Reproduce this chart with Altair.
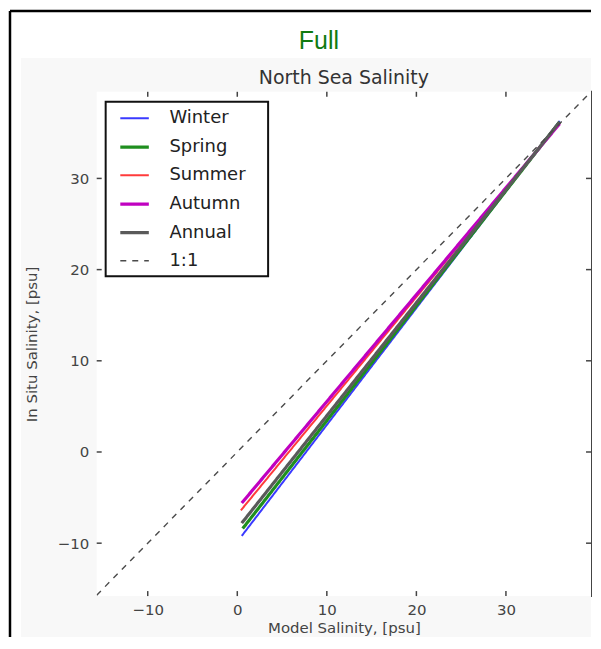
import altair as alt
import pandas as pd

# ---- data ----
series = ["Winter", "Spring", "Summer", "Autumn", "Annual", "1:1"]
colors = ["#3a3aff", "#1f8f1f", "#ff3b3b", "#c000c0", "#5a5a5a", "#4a4a4a"]
widths = [2.0, 3.2, 2.0, 3.2, 3.2, 1.4]
dashes = [[1, 0], [1, 0], [1, 0], [1, 0], [1, 0], [6, 6]]

model_start = [0.5, 0.6, 0.4, 0.5, 0.5]
insitu_start = [-9.2, -8.4, -6.4, -5.6, -7.8]
model_end = [36.0, 36.0, 36.0, 36.0, 36.0]
insitu_end = [36.3, 36.2, 36.1, 36.0, 36.2]
one_to_one = [-15.7, 39.5]

x_ticks = [-10, 0, 10, 20, 30]
y_ticks = [-10, 0, 10, 20, 30]
x_domain = [-15.7, 39.5]
y_domain = [-15.8, 39.5]

rows = []
for i, s in enumerate(series[:5]):
    rows.append({"series": s, "x": model_start[i], "y": insitu_start[i], "o": 0})
    rows.append({"series": s, "x": model_end[i], "y": insitu_end[i], "o": 1})
for j, v in enumerate(one_to_one):
    rows.append({"series": "1:1", "x": v, "y": v, "o": j})
df = pd.DataFrame(rows)

W, H = 496, 506
one = pd.DataFrame({"a": [1]})

xscale = alt.Scale(domain=x_domain, nice=False, zero=False)
yscale = alt.Scale(domain=y_domain, nice=False, zero=False)
axis_common = dict(grid=False, domain=False, ticks=False, zindex=2,
                   labelFont="DejaVu Sans", labelFontSize=15, labelColor="#444",
                   titleFont="DejaVu Sans", titleFontSize=15, titleFontWeight="normal",
                   titleColor="#444")
xaxis = alt.Axis(values=x_ticks, title="Model Salinity, [psu]", labelPadding=6,
                 titlePadding=4, **axis_common)
yaxis = alt.Axis(values=y_ticks, title="In Situ Salinity, [psu]", labelPadding=8,
                 titlePadding=18, **axis_common)
X = alt.X("x:Q", scale=xscale, axis=xaxis)
Y = alt.Y("y:Q", scale=yscale, axis=yaxis)

leg = alt.Legend(title=None, orient="none", legendX=22, legendY=11, padding=0,
                 symbolType="stroke", symbolSize=820, labelOffset=19,
                 labelFont="DejaVu Sans", labelFontSize=18, labelColor="#222",
                 rowPadding=3.6, zindex=3)

bg = alt.Chart(one).mark_rect(fill="#f8f8f8").encode(
    x=alt.value(-76), x2=alt.value(W), y=alt.value(-34), y2=alt.value(H + 41))
white = alt.Chart(one).mark_rect(fill="white").encode(
    x=alt.value(0), x2=alt.value(W), y=alt.value(0), y2=alt.value(H))
frame_left = alt.Chart(one).mark_rule(color="black", strokeWidth=2.5).encode(
    x=alt.value(-87), y=alt.value(-81), y2=alt.value(H + 41))
frame_top = alt.Chart(one).mark_rule(color="black", strokeWidth=2.5).encode(
    x=alt.value(-87), x2=alt.value(W), y=alt.value(-81))
legend_box = alt.Chart(one).mark_rect(fill="white", stroke="#111", strokeWidth=2).encode(
    x=alt.value(9), x2=alt.value(172), y=alt.value(10), y2=alt.value(185))

lines = alt.Chart(df).mark_line(clip=True).encode(
    x=X, y=Y,
    color=alt.Color("series:N", scale=alt.Scale(domain=series, range=colors), legend=leg),
    strokeWidth=alt.StrokeWidth("series:N", scale=alt.Scale(type="ordinal", domain=series, range=widths), legend=leg),
    strokeDash=alt.StrokeDash("series:N", scale=alt.Scale(domain=series, range=dashes), legend=leg),
    order="o:Q",
)

xt = pd.DataFrame({"x": x_ticks})
yt = pd.DataFrame({"y": y_ticks})
tick_style = dict(color="#444", strokeWidth=1.5)
xt_b = alt.Chart(xt).mark_rule(**tick_style).encode(x=X, y=alt.value(H), y2=alt.value(H - 5))
xt_t = alt.Chart(xt).mark_rule(**tick_style).encode(x=X, y=alt.value(0), y2=alt.value(5))
yt_l = alt.Chart(yt).mark_rule(**tick_style).encode(y=Y, x=alt.value(0), x2=alt.value(5))
yt_r = alt.Chart(yt).mark_rule(**tick_style).encode(y=Y, x=alt.value(W), x2=alt.value(W - 5))

full = alt.Chart(one).mark_text(text="Full", font="Liberation Sans", fontSize=25,
                                color="#107a10", align="center", baseline="middle").encode(
    x=alt.value(319 - 96), y=alt.value(39 - 90))
title = alt.Chart(one).mark_text(text="North Sea Salinity", font="DejaVu Sans", fontSize=19,
                                 color="#333", align="center", baseline="alphabetic").encode(
    x=alt.value(W / 2), y=alt.value(-8))

chart = alt.layer(bg, white, frame_left, frame_top, legend_box, lines,
                  xt_b, xt_t, yt_l, yt_r, full, title).properties(
    width=W, height=H, padding=0,
).configure_view(stroke="#444", strokeWidth=2, fill="white")

chart.save("out.html", embed_options={"renderer": "svg", "actions": False})
